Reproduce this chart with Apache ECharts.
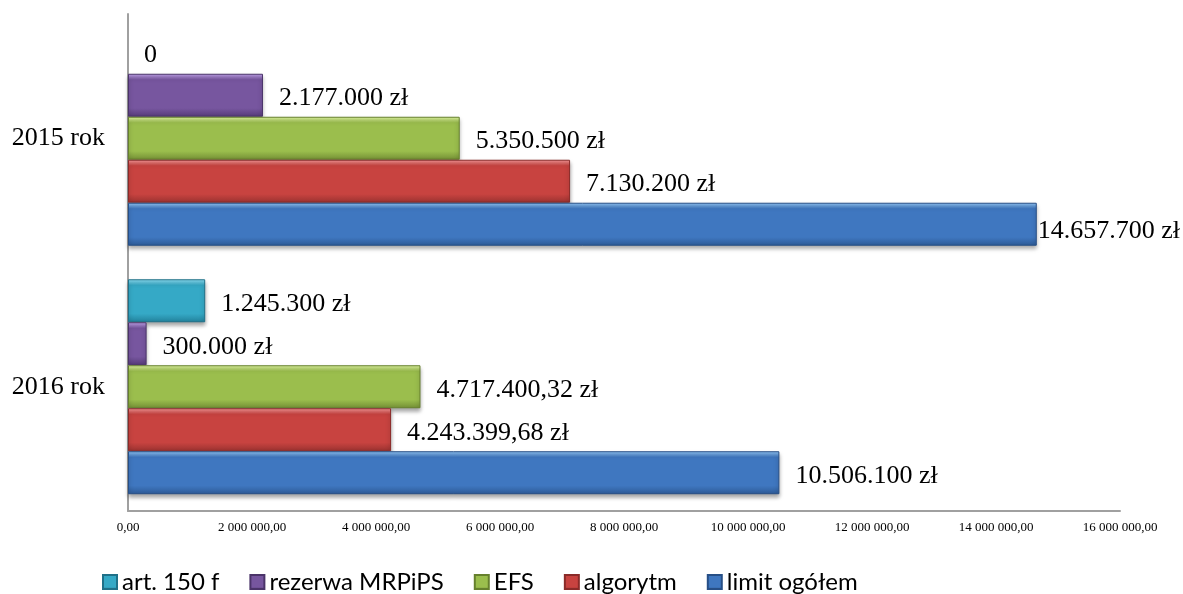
<!DOCTYPE html>
<html>
<head>
<meta charset="utf-8">
<script src="https://cdn.jsdelivr.net/npm/echarts@6/dist/echarts.min.js"></script>
<style>
  html, body { margin: 0; padding: 0; background: #fff; }
  #main { width: 1183px; height: 594px; }
</style>
</head>
<body>
<div id="main"></div>
<script>
// kategorie (od dołu)
const categories = ['2016 rok', '2015 rok']
const art150f = [1245300, 0]
const rezerwa = [300000, 2177000]
const efs = [4717400.32, 5350500]
const algorytm = [4243399.68, 7130200]
const limitOgolem = [10506100, 14657700]
const seriesNames = ['art. 150 f', 'rezerwa MRPiPS', 'EFS', 'algorytm', 'limit ogółem']

var myChart = echarts.init(document.getElementById('main'))

var fmtZl = function (v) {
  if (v === 0) return '0'
  var parts = v.toFixed(2).split('.')
  var i = parts[0].replace(/\B(?=(\d{3})+(?!\d))/g, '.')
  return i + (parts[1] !== '00' ? ',' + parts[1] : '') + ' zł'
}
var fmtAxis = function (v) {
  var parts = v.toFixed(2).split('.')
  return parts[0].replace(/\B(?=(\d{3})+(?!\d))/g, ' ') + ',' + parts[1]
}

// gradient "bevel" jak w Excelu
var bevel = function (light, main, dark) {
  return new echarts.graphic.LinearGradient(0, 0, 0, 1, [
    { offset: 0, color: light },
    { offset: 0.14, color: main },
    { offset: 0.8, color: main },
    { offset: 1, color: dark }
  ])
}
var styles = [
  { color: bevel('#8fe0f5', '#35a9c6', '#22819b'), borderColor: '#1f7088' },
  { color: bevel('#c3a5ee', '#77569f', '#553a78'), borderColor: '#4b3469' },
  { color: bevel('#e2f8a4', '#9bbe4d', '#738f35'), borderColor: '#66802d' },
  { color: bevel('#f89a9a', '#c84340', '#993230'), borderColor: '#8a2b29' },
  { color: bevel('#94c9f8', '#3f77c0', '#2d5a96'), borderColor: '#274f86' }
]

var labelBase = {
  show: true,
  position: 'right',
  distance: 16,
  offset: [0, 3],
  color: '#000',
  fontFamily: 'Liberation Serif',
  fontSize: 26,
  formatter: function (p) { return fmtZl(p.value) }
}

var makeSeries = function (name, values, idx) {
  return {
    name: name,
    type: 'bar',
    barGap: '0%',
    barCategoryGap: '13.5%',
    data: values.map(function (v, i) {
      // etykieta 14.657.700 zł przesunięta tak, żeby zmieściła się w obszarze
      if (idx === 4 && i === 1) {
        return { value: v, label: { distance: 1, offset: [0, 7] } }
      }
      if (v === 0) {
        return { value: v, itemStyle: { borderWidth: 0, shadowBlur: 0, shadowOffsetY: 0 } }
      }
      return v
    }),
    itemStyle: {
      color: styles[idx].color,
      borderColor: styles[idx].borderColor,
      borderWidth: 1,
      shadowColor: 'rgba(0,0,0,0.35)',
      shadowBlur: 4,
      shadowOffsetY: 3
    },
    label: labelBase
  }
}

var option = {
  animation: false,
  grid: { left: 128, right: 63, top: 14, bottom: 83 },
  legend: {
    left: 97,
    top: 565,
    icon: 'rect',
    itemWidth: 14,
    itemHeight: 14,
    itemGap: 30,
    data: seriesNames,
    textStyle: { fontFamily: 'Lato', fontSize: 24, color: '#000' }
  },
  xAxis: {
    type: 'value',
    min: 0,
    max: 16000000,
    interval: 2000000,
    splitLine: { show: false },
    axisLine: { show: true, lineStyle: { color: '#a0a0a0', width: 2 } },
    axisTick: { show: false },
    axisLabel: {
      margin: 10,
      color: '#000',
      fontFamily: 'Liberation Serif',
      fontSize: 13,
      formatter: fmtAxis
    }
  },
  yAxis: {
    type: 'category',
    data: categories,
    axisLine: { show: true, lineStyle: { color: '#a0a0a0', width: 2 } },
    axisTick: { show: false },
    axisLabel: {
      margin: 23,
      color: '#000',
      fontFamily: 'Liberation Serif',
      fontSize: 26
    }
  },
  series: [
    makeSeries(seriesNames[0], art150f, 0),
    makeSeries(seriesNames[1], rezerwa, 1),
    makeSeries(seriesNames[2], efs, 2),
    makeSeries(seriesNames[3], algorytm, 3),
    makeSeries(seriesNames[4], limitOgolem, 4)
  ]
}
myChart.setOption(option)
</script>
</body>
</html>
